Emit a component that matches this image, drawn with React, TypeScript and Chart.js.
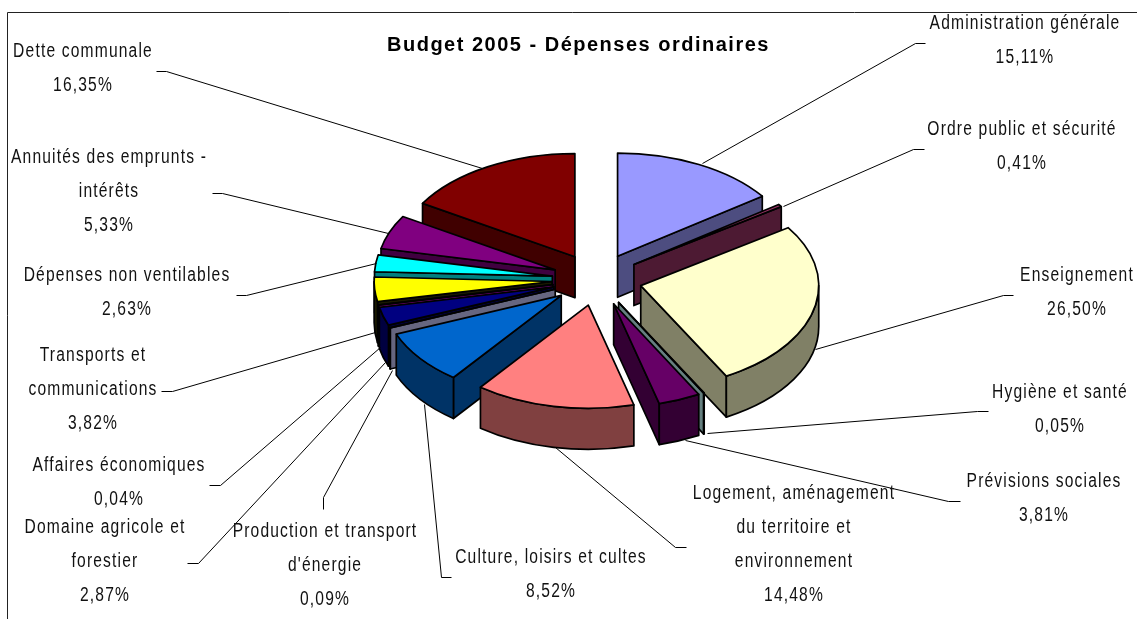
import React, { useEffect, useRef } from "react";
import { Chart, registerables } from "chart.js";

Chart.register(...registerables);

const titleText = "Budget 2005 - Dépenses ordinaires";
const categories = [
  ["Administration générale"],
  ["Ordre public et sécurité"],
  ["Enseignement"],
  ["Hygiène et santé"],
  ["Prévisions sociales"],
  ["Logement, aménagement", "du territoire et", "environnement"],
  ["Culture, loisirs et cultes"],
  ["Production et transport", "d'énergie"],
  ["Domaine agricole et", "forestier"],
  ["Affaires économiques"],
  ["Transports et", "communications"],
  ["Dépenses non ventilables"],
  ["Annuités des emprunts -", "intérêts"],
  ["Dette communale"],
];
const values = [15.11, 0.41, 26.5, 0.05, 3.81, 14.48, 8.52, 0.09, 2.87, 0.04, 3.82, 2.63, 5.33, 16.35];
const topColors = [
  "#9999FF", "#993366", "#FFFFCC", "#CCFFFF", "#660066", "#FF8080", "#0066CC",
  "#CCCCFF", "#000080", "#FF00FF", "#FFFF00", "#00FFFF", "#800080", "#800000",
];
const wallColors = [
  "#4D4D80", "#4D1A33", "#808066", "#668080", "#330033", "#804040", "#003366",
  "#666680", "#000040", "#800080", "#1A1A00", "#008080", "#400040", "#400000",
];

// Label placement: centre x, first line centre y
const labelX = [1025, 1022, 1077, 1060, 1044, 794, 551, 325, 105, 119, 93, 127, 109, 83];
const labelY = [23, 129, 275, 392, 481, 493, 557, 531, 527, 465, 355, 275, 157, 51];
const leaders = [
  [[925, 43], [915, 43], [702, 163]],
  [[924, 149], [913, 149], [783, 206]],
  [[1013, 295], [1003, 295], [815, 349]],
  [[988, 411], [977, 411], [707, 433]],
  [[960, 501], [948, 501], [685, 440]],
  [[686, 547], [675, 547], [555, 447]],
  [[451, 577], [441, 577], [424, 404]],
  [[323, 509], [323, 497], [392, 370]],
  [[187, 563], [198, 563], [385, 362]],
  [[209, 485], [220, 485], [380, 347]],
  [[161, 391], [172, 391], [375, 332]],
  [[236, 295], [246, 295], [376, 263]],
  [[212, 193], [222, 193], [388, 233]],
  [[156, 71], [166, 71], [482, 168]],
];

const SQUASH = 0.58;
const EXPLODE = 45;
const DEPTH = 41;
const RADIUS = 178;
const LABEL_FONT = '20px "Liberation Sans", Arial, sans-serif';
const LABEL_SPACING = "1.5px";
const LABEL_NARROW = 0.78;

const pie3d = {
  id: "pie3d",
  beforeDraw(chart: any) {
    const { ctx, width, height } = chart;
    ctx.save();
    ctx.strokeStyle = "#222";
    ctx.lineWidth = 1;
    ctx.beginPath();
    ctx.moveTo(7.5, height);
    ctx.lineTo(7.5, 12.5);
    ctx.lineTo(width, 12.5);
    ctx.stroke();
    ctx.restore();
    (ctx as any).letterSpacing = "1.5px";
  },
  beforeDatasetsDraw(chart: any) {
    const { ctx } = chart;
    (ctx as any).letterSpacing = "0px";
    const arcs = chart.getDatasetMeta(0).data as any[];
    const order = arcs
      .map((arc, i) => ({ arc, i, mid: (arc.startAngle + arc.endAngle) / 2 + Math.PI / 2 }))
      .sort((a, b) => Math.min(a.mid, 2 * Math.PI - a.mid) - Math.min(b.mid, 2 * Math.PI - b.mid));

    ctx.save();
    ctx.strokeStyle = "#000";
    ctx.lineWidth = 1.7;
    ctx.lineJoin = "round";
    for (const { arc, i } of order) {
      const mid = (arc.startAngle + arc.endAngle) / 2;
      const a0 = arc.startAngle;
      const a1 = arc.endAngle;
      const R = arc.outerRadius;
      const cx = arc.x + EXPLODE * Math.cos(mid);
      const cy = arc.y + EXPLODE * SQUASH * Math.sin(mid);
      const pt = (a: number): [number, number] => [cx + R * Math.cos(a), cy + R * SQUASH * Math.sin(a)];

      ctx.fillStyle = wallColors[i];
      const radial = (a: number) => {
        const [px, py] = pt(a);
        ctx.beginPath();
        ctx.moveTo(cx, cy);
        ctx.lineTo(px, py);
        ctx.lineTo(px, py + DEPTH);
        ctx.lineTo(cx, cy + DEPTH);
        ctx.closePath();
        ctx.fill();
        ctx.stroke();
      };
      if (Math.cos(a0) < 0) radial(a0);
      if (Math.cos(a1) > 1e-6) radial(a1);
      if (Math.abs(Math.cos(a1)) <= 1e-6) {
        ctx.beginPath();
        ctx.moveTo(cx, cy);
        ctx.lineTo(cx, cy + DEPTH);
        ctx.stroke();
      }

      const lo = Math.max(a0, 0);
      const hi = Math.min(a1, Math.PI);
      if (hi > lo) {
        ctx.beginPath();
        ctx.ellipse(cx, cy, R, R * SQUASH, 0, lo, hi);
        ctx.ellipse(cx, cy + DEPTH, R, R * SQUASH, 0, hi, lo, true);
        ctx.closePath();
        ctx.fill();
        ctx.stroke();
      }

      // top face: the library's own arc element, squashed and pushed outwards
      ctx.save();
      ctx.translate(cx, cy);
      ctx.scale(1, SQUASH);
      ctx.translate(-arc.x, -arc.y);
      arc.draw(ctx);
      ctx.restore();

      ctx.beginPath();
      ctx.moveTo(cx, cy);
      ctx.ellipse(cx, cy, R, R * SQUASH, 0, a0, a1);
      ctx.closePath();
      ctx.stroke();
    }
    ctx.restore();
    return false;
  },
  afterDraw(chart: any) {
    const { ctx } = chart;
    ctx.save();
    ctx.strokeStyle = "#000";
    ctx.lineWidth = 1;
    leaders.forEach((pts) => {
      ctx.beginPath();
      pts.forEach(([x, y], k) => (k ? ctx.lineTo(x + 0.5, y + 0.5) : ctx.moveTo(x + 0.5, y + 0.5)));
      ctx.stroke();
    });
    ctx.font = LABEL_FONT;
    (ctx as any).letterSpacing = LABEL_SPACING;
    ctx.fillStyle = "#111";
    ctx.textAlign = "center";
    ctx.textBaseline = "middle";
    categories.forEach((lines, i) => {
      const text = [...lines, values[i].toFixed(2).replace(".", ",") + "%"];
      text.forEach((t, k) => {
        ctx.save();
        ctx.translate(labelX[i], labelY[i] + k * 34);
        ctx.scale(LABEL_NARROW, 1);
        ctx.fillText(t, 0, 0);
        ctx.restore();
      });
    });
    ctx.restore();
  },
};

export default function App() {
  const ref = useRef<HTMLCanvasElement>(null);
  useEffect(() => {
    const chart = new Chart(ref.current as HTMLCanvasElement, {
      type: "pie",
      data: {
        labels: categories.map((c) => c.join(" ")),
        datasets: [{ data: values, backgroundColor: topColors, borderWidth: 0, offset: 0 }],
      },
      options: {
        animation: false,
        responsive: false,
        devicePixelRatio: 1,
        radius: RADIUS,
        rotation: 0,
        layout: { padding: { left: 387, right: 330, top: 33, bottom: 117 } },
        plugins: {
          legend: { display: false },
          tooltip: { enabled: false },
          title: {
            display: true,
            text: titleText,
            align: "start",
            color: "#000",
            padding: 0,
            font: { family: '"Liberation Sans", Arial, sans-serif', size: 20, weight: "bold", lineHeight: 1.2 },
          },
        },
      },
      plugins: [pie3d],
    } as any);
    return () => chart.destroy();
  }, []);
  return (
    <div style={{ position: "absolute", left: 0, top: 0, width: 1137, height: 619, background: "#fff" }}>
      <canvas ref={ref} width={1137} height={619} style={{ display: "block" }} />
    </div>
  );
}
